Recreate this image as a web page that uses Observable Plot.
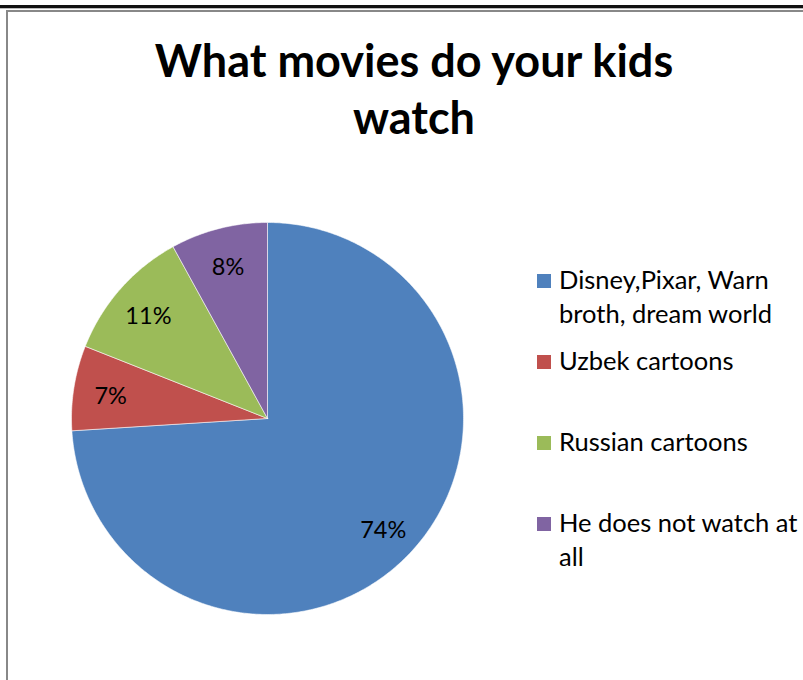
<!DOCTYPE html>
<html>
<head>
<meta charset="utf-8">
<script src="https://cdn.jsdelivr.net/npm/d3@7"></script>
<script src="https://cdn.jsdelivr.net/npm/@observablehq/plot@0.6"></script>
<style>
  html, body { margin: 0; padding: 0; background: #fff; }
  #root { position: relative; width: 803px; height: 680px; overflow: hidden; font-family: Lato, "Noto Sans", sans-serif; }
  .topline { position: absolute; left: 0; top: 5px; width: 803px; height: 3px; background: #111; }
  .topline2 { position: absolute; left: 0; top: 8px; width: 803px; height: 1px; background: #bbb; }
  .frame { position: absolute; left: 6px; top: 10px; width: 820px; height: 700px; border-left: 2px solid #888; border-top: 2px solid #888; box-sizing: border-box; }
  #title { position: absolute; left: 0; top: 32px; width: 828px; text-align: center; font-weight: bold; font-size: 45px; line-height: 57px; color: #000; }
  #pie { position: absolute; left: 57px; top: 208px; }
  .item { position: absolute; left: 537px; width: 270px; font-size: 25.5px; line-height: 34px; color: #000; }
  .sw { position: absolute; left: 0; top: 12px; width: 14px; height: 14px; }
  .txt { position: absolute; left: 22px; top: 0; width: 260px; white-space: nowrap; }
</style>
</head>
<body>
<div id="root">
  <div class="topline"></div>
  <div class="topline2"></div>
  <div class="frame"></div>
  <div id="title">What movies do your kids<br>watch</div>
  <div id="pie"></div>
  <div id="legend"></div>
</div>
<script>
const categories = ["Disney,Pixar, Warn broth, dream world", "Uzbek cartoons", "Russian cartoons", "He does not watch at all"];
const legendLines = [["Disney,Pixar, Warn", "broth, dream world"], ["Uzbek cartoons"], ["Russian cartoons"], ["He does not watch at", "all"]];
const values = [74, 7, 11, 8];
const colors = ["#4F81BD", "#C0504D", "#9BBB59", "#8064A2"];

const R = 196;
const arcs = d3.pie().sort(null).value(d => d)(values);

// Build slice outlines (polygons) from pie angles
const slicePts = [];
arcs.forEach((a, i) => {
  slicePts.push({cat: categories[i], x: 0, y: 0});
  const n = Math.max(2, Math.ceil((a.endAngle - a.startAngle) / 0.01));
  for (let k = 0; k <= n; k++) {
    const t = a.startAngle + (a.endAngle - a.startAngle) * k / n;
    slicePts.push({cat: categories[i], x: R * Math.sin(t), y: R * Math.cos(t)});
  }
  slicePts.push({cat: categories[i], x: 0, y: 0});
});

const labels = arcs.map((a, i) => {
  const m = (a.startAngle + a.endAngle) / 2;
  return {cat: categories[i], text: values[i] + "%", x: 0.81 * R * Math.sin(m), y: 0.81 * R * Math.cos(m) - 3};
});

const chart = Plot.plot({
  width: 420, height: 420,
  margin: 0,
  x: {domain: [-210, 210], axis: null},
  y: {domain: [-210, 210], axis: null},
  color: {domain: categories, range: colors},
  style: {background: "transparent", fontFamily: "Lato, 'Noto Sans', sans-serif"},
  marks: [
    Plot.line(slicePts, {x: "x", y: "y", z: "cat", fill: "cat", stroke: "#fff", strokeWidth: 0.8, strokeOpacity: 0.7, curve: "linear-closed"}),
    Plot.text(labels, {x: "x", y: "y", text: "text", fontSize: 23.5, fill: "#000"})
  ]
});
document.getElementById("pie").appendChild(chart);

const legend = document.getElementById("legend");
legendLines.forEach((lines, i) => {
  const item = document.createElement("div");
  item.className = "item";
  item.style.top = (262 + i * 81) + "px";
  const sw = document.createElement("div");
  sw.className = "sw";
  sw.style.background = colors[i];
  const txt = document.createElement("div");
  txt.className = "txt";
  txt.innerHTML = lines.join("<br>");
  item.appendChild(sw);
  item.appendChild(txt);
  legend.appendChild(item);
});
</script>
</body>
</html>
